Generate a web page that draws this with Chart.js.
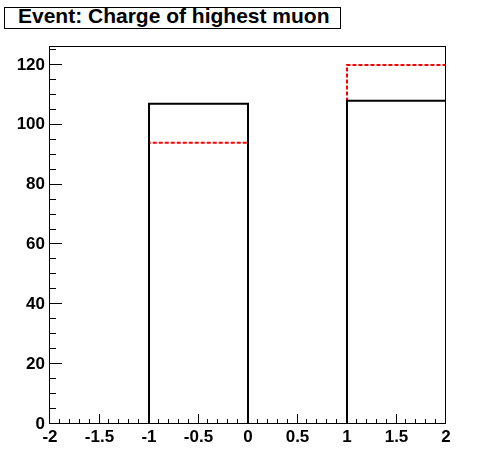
<!DOCTYPE html>
<html>
<head>
<meta charset="utf-8">
<script src="https://cdn.jsdelivr.net/npm/chart.js@4"></script>
<style>
  body{margin:0;background:#fff;}
  #wrap{position:relative;width:496px;height:472px;}
  #title{
    position:absolute;left:4px;top:7px;width:337px;height:22px;
    box-sizing:border-box;border:1px solid #000;background:#fff;
    font:bold 21px "Liberation Sans", Arial, sans-serif;line-height:16px;
    padding-left:13px;white-space:nowrap;color:#000;overflow:hidden;
  }
</style>
</head>
<body>
<div id="wrap">
  <canvas id="chart" width="496" height="472"></canvas>
  <div id="title">Event: Charge of highest muon</div>
</div>
<script>
// histogram bins (charge), edges and contents
const binEdges = [-2, -1, 0, 1, 2];
const blackCounts = [0, 107, 0, 108];
const redCounts = [0, 94, 0, 120];

const xTickLabels = ["-2", "-1.5", "-1", "-0.5", "0", "0.5", "1", "1.5", "2"];
const yTickLabels = ["0", "20", "40", "60", "80", "100", "120"];

function histPoints(edges, counts){
  const pts = [];
  counts.forEach((c, i) => {
    pts.push({x: edges[i], y: c});
    pts.push({x: edges[i+1], y: c});
  });
  return pts;
}

const font = {family: "'Liberation Sans', Arial, sans-serif", weight: "bold", size: 17};

// ROOT-like frame with inward ticks
const frameTicks = {
  id: "frameTicks",
  afterDatasetsDraw(chart){
    const {ctx, chartArea: a, scales: {x, y}} = chart;
    ctx.save();
    ctx.strokeStyle = "#000";
    ctx.lineWidth = 1;
    ctx.beginPath();
    // y ticks: major 20, minor 5
    for(let i = 0; i <= 25; i++){
      const py = Math.round(y.getPixelForValue(i * 5)) - 0.5;
      if(py < a.top) break;
      const len = (i % 4 === 0) ? 12 : 6;
      ctx.moveTo(a.left, py);
      ctx.lineTo(a.left + len, py);
    }
    // x ticks: major 0.5, minor 0.1
    for(let i = 0; i <= 40; i++){
      const px = Math.round(x.getPixelForValue(-2 + i * 0.1)) - 0.5;
      const len = (i % 5 === 0) ? 10 : 5;
      ctx.moveTo(px, a.bottom);
      ctx.lineTo(px, a.bottom - len);
    }
    ctx.stroke();
    ctx.strokeRect(a.left - 0.5, a.top - 0.5, a.right - a.left, a.bottom - a.top);
    ctx.restore();
  }
};

new Chart(document.getElementById("chart"), {
  type: "line",
  data: {
    datasets: [
      {
        label: "black",
        data: histPoints(binEdges, blackCounts),
        borderColor: "#000",
        borderWidth: 2,
        pointRadius: 0,
        tension: 0,
        order: 1
      },
      {
        label: "red",
        data: histPoints(binEdges, redCounts),
        borderColor: "#ff0000",
        borderWidth: 2,
        borderDash: [4, 2],
        pointRadius: 0,
        tension: 0,
        order: 2
      }
    ]
  },
  options: {
    responsive: false,
    animation: false,
    events: [],
    layout: {padding: {top: 47, right: 50, left: 0, bottom: 0}},
    plugins: {legend: {display: false}, tooltip: {enabled: false}},
    scales: {
      x: {
        type: "linear", min: -2, max: 2,
        grid: {display: false, drawTicks: false},
        border: {display: false},
        ticks: {
          stepSize: 0.5, autoSkip: false, maxRotation: 0, padding: 3,
          color: "#000", font,
          callback: (v, i) => xTickLabels[i]
        },
        afterFit: (s) => { s.height = 48; }
      },
      y: {
        min: 0, max: 126,
        grid: {display: false, drawTicks: false},
        border: {display: false},
        ticks: {
          stepSize: 20, includeBounds: false, padding: 5,
          color: "#000", font,
          callback: (v, i) => yTickLabels[i]
        },
        afterFit: (s) => { s.width = 50; }
      }
    }
  },
  plugins: [frameTicks]
});
</script>
</body>
</html>
